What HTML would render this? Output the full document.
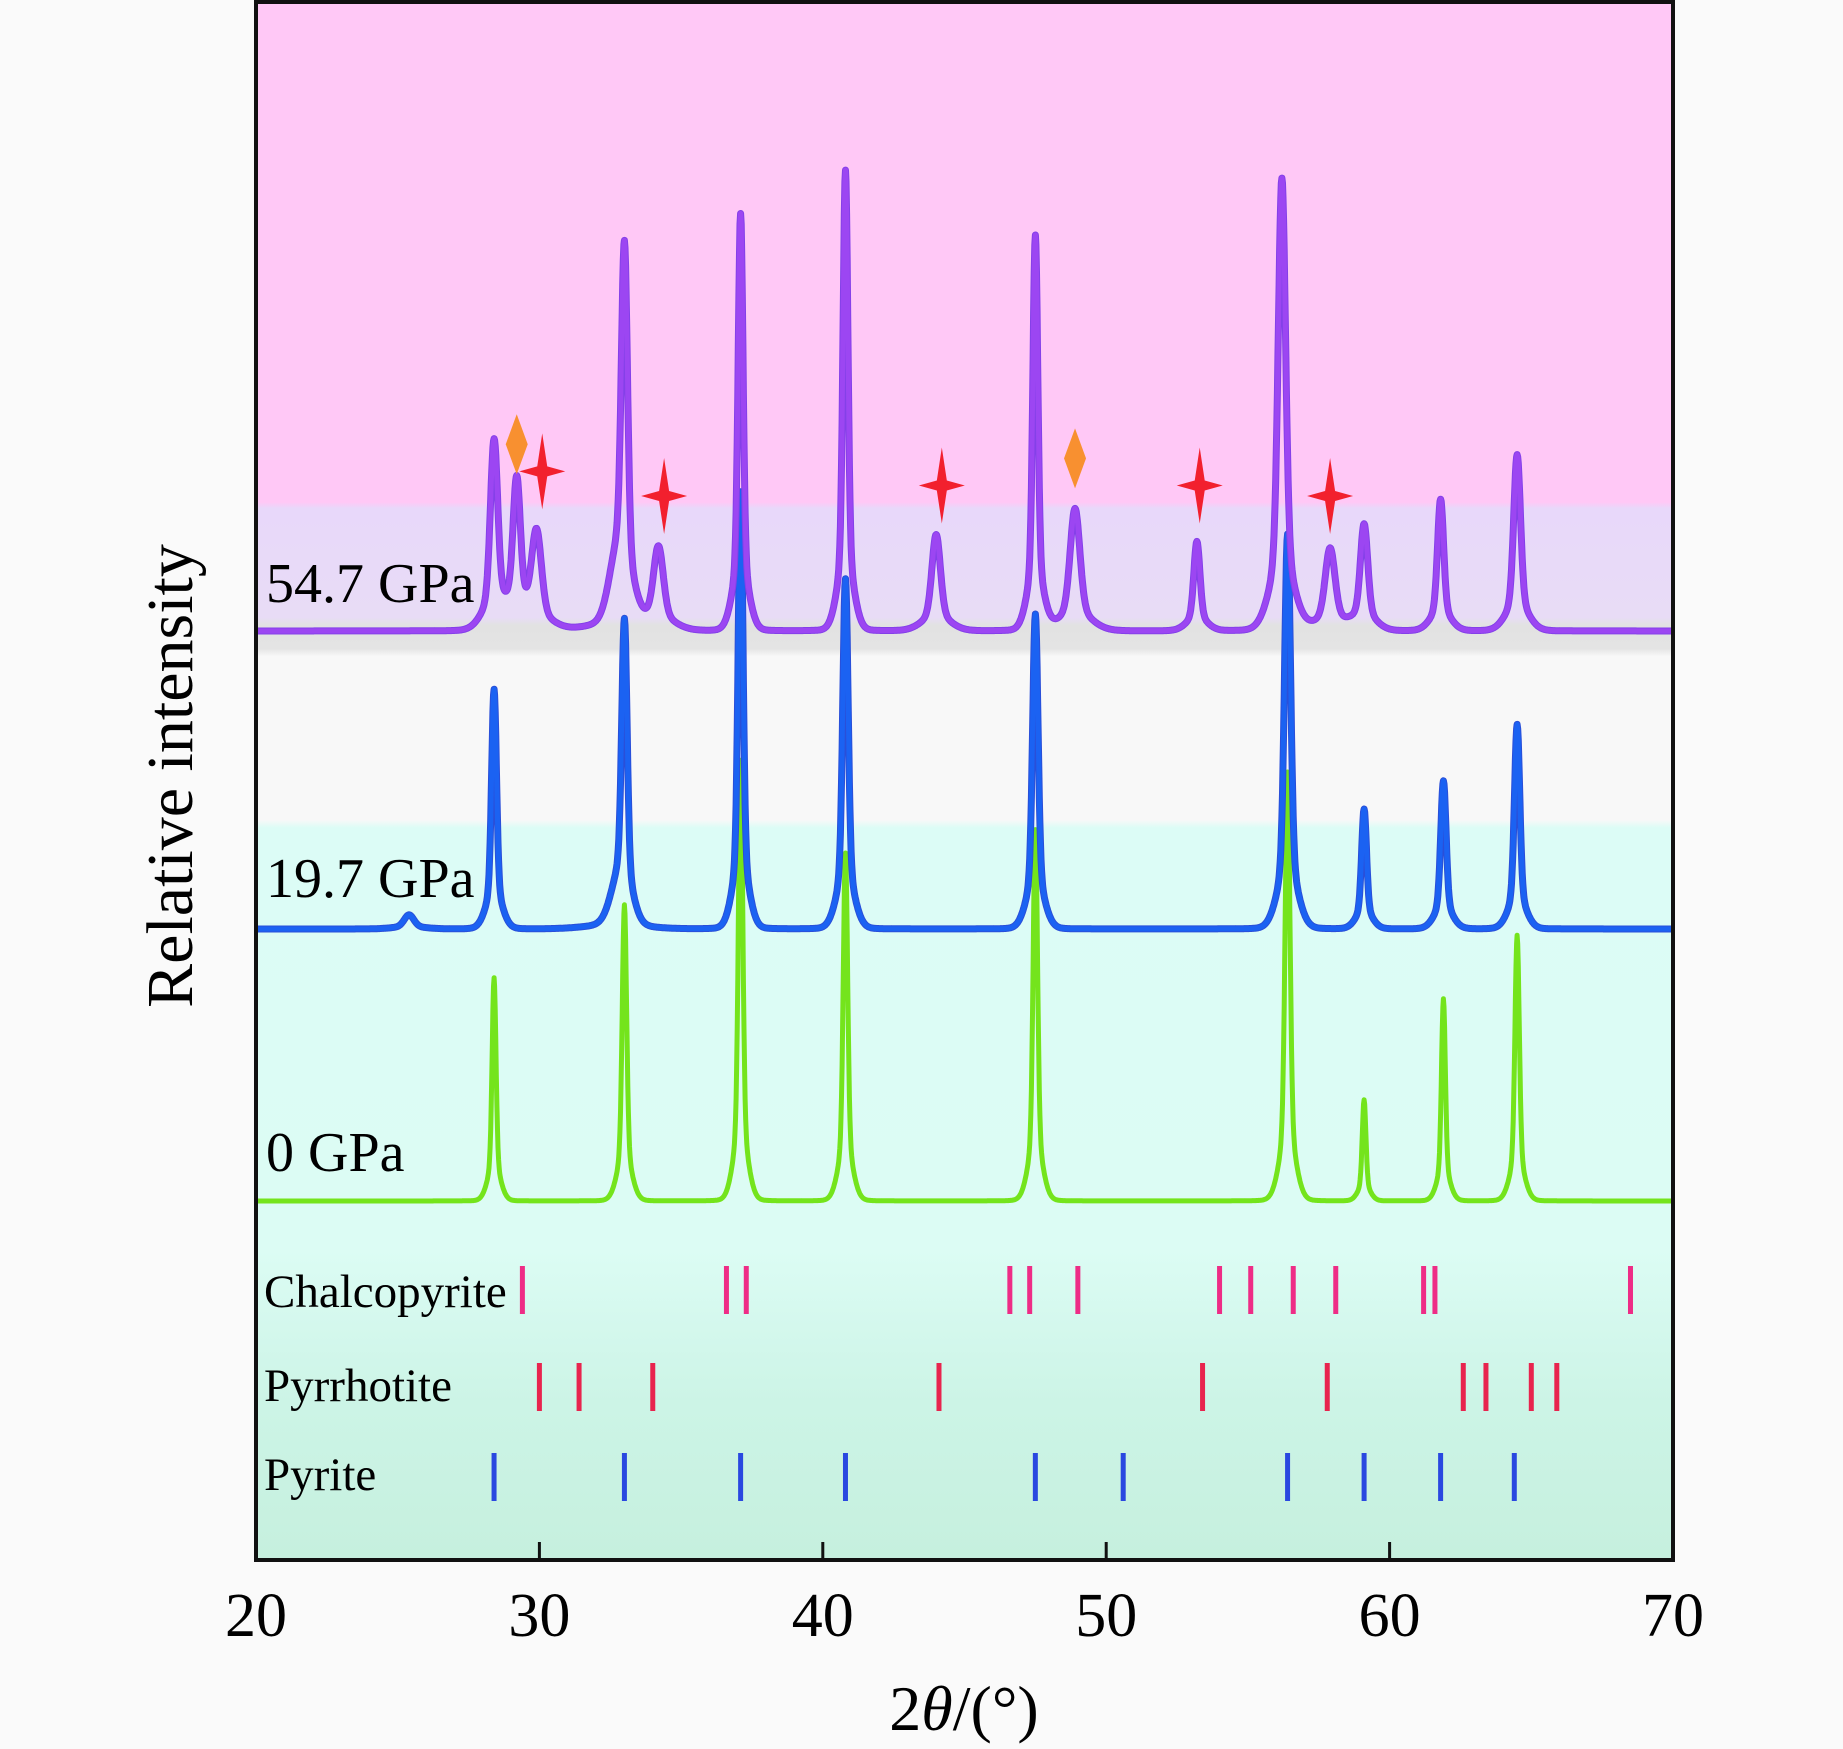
<!DOCTYPE html>
<html><head><meta charset="utf-8"><style>
html,body{margin:0;padding:0;background:#fafafa;}
svg{display:block;font-family:"Liberation Serif",serif;}
</style></head><body>
<svg id="chart" width="1843" height="1749" viewBox="0 0 1843 1749">
<defs>
<linearGradient id="bg" x1="0" y1="0" x2="0" y2="1">
<stop offset="0" stop-color="#ffc8f6"/>
<stop offset="0.321" stop-color="#ffc8f6"/>
<stop offset="0.325" stop-color="#e8d8fa"/>
<stop offset="0.395" stop-color="#e8dcf6"/>
<stop offset="0.40" stop-color="#e2e2e2"/>
<stop offset="0.415" stop-color="#e4e4e4"/>
<stop offset="0.42" stop-color="#f8f8f8"/>
<stop offset="0.525" stop-color="#f8f8f8"/>
<stop offset="0.53" stop-color="#dcfcf6"/>
<stop offset="0.80" stop-color="#dcfcf4"/>
<stop offset="0.90" stop-color="#ccf4e6"/>
<stop offset="1" stop-color="#c6f0de"/>
</linearGradient>
</defs>
<rect x="256" y="2" width="1417" height="1558" fill="url(#bg)"/>
<g id="marks"></g>
<rect x="256" y="2" width="1417" height="1558" fill="none" stroke="#111" stroke-width="4"/>
<g id="axis"></g>
<text x="964" y="1730" font-size="64" text-anchor="middle">2<tspan font-style="italic">θ</tspan>/(°)</text>
<text transform="translate(192,776) rotate(-90)" font-size="66" text-anchor="middle">Relative intensity</text>
<text x="266" y="602" font-size="56">54.7 GPa</text>
<text x="266" y="897" font-size="56">19.7 GPa</text>
<text x="266" y="1171" font-size="56">0 GPa</text>
<text x="264" y="1307" font-size="47">Chalcopyrite</text>
<text x="264" y="1401" font-size="47">Pyrrhotite</text>
<text x="264" y="1490" font-size="47">Pyrite</text>
</svg>
<script>
// peak positions (deg), heights (relative units), widths (deg)
const purplePos=[28.4,29.2,29.9,32.7,33.0,34.2,37.1,40.8,44.0,47.5,48.9,53.2,56.2,57.9,59.1,61.8,64.5];
const purpleAmp=[160,122,82,40,305,70,355,392,82,336,104,76,385,70,90,112,150];
const purpleWid=[0.3,0.3,0.4,0.7,0.25,0.4,0.2,0.2,0.35,0.2,0.4,0.25,0.3,0.4,0.3,0.25,0.28];
const bluePos=[25.4,28.4,32.7,33.0,37.1,40.8,47.5,56.4,59.1,61.9,64.5];
const blueAmp=[12,204,22,250,372,298,268,336,102,126,174];
const blueWid=[0.4,0.2,0.7,0.22,0.2,0.22,0.22,0.25,0.2,0.22,0.22];
const greenPos=[28.4,33.0,37.1,40.8,47.5,56.4,59.1,61.9,64.5];
const greenAmp=[190,252,375,296,316,365,86,172,226];
const greenWid=[0.16,0.18,0.18,0.18,0.18,0.2,0.15,0.16,0.18];
const chalcoPos=[29.4,36.6,37.3,46.6,47.3,49.0,54.0,55.1,56.6,58.1,61.2,61.6,68.5];
const pyrrhPos=[30.0,31.4,34.0,44.1,53.4,57.8,62.6,63.4,65.0,65.9];
const pyritePos=[28.4,33.0,37.1,40.8,47.5,50.6,56.4,59.1,61.8,64.4];
const diamondPos=[29.2,48.9];
const diamondY=[378,390];
const starPos=[30.1,34.4,44.2,53.3,57.9];
const starY=[401,422,413,413,422];
const xTicks=[20,30,40,50,60,70];

const NS="http://www.w3.org/2000/svg";
const X0=256,X1=1673,D0=20,D1=70;
const S=1.1754;
function xs(d){return X0+(d-D0)/(D1-D0)*(X1-X0);}
function ys(base,v){return base-v*S;}
const marks=document.getElementById('marks');
const axis=document.getElementById('axis');
function mk(tag,attrs,parent){const e=document.createElementNS(NS,tag);for(const k in attrs)e.setAttribute(k,attrs[k]);parent.appendChild(e);return e;}

function spectrum(pos,amp,wid,base,color,name,outline){
  let d='';
  for(let x=20;x<=70.001;x+=0.02){
    let v=0;
    for(let i=0;i<pos.length;i++){
      const g=(x-pos[i])/(wid[i]/2);
      const gb=(x-pos[i])/(wid[i]*1.6);
      v+=amp[i]*(0.12/(1+g*g)+0.73*Math.exp(-0.693*g*g)+0.15*Math.exp(-0.693*gb*gb));
    }
    d+=(d?'L':'M')+xs(x).toFixed(1)+','+ys(base,v).toFixed(1);
  }
  if(outline){
    const o=mk('path',{d:d,fill:'none',stroke:outline,'stroke-width':7,'stroke-linejoin':'round'},marks);
    
    
  }
  const p=mk('path',{d:d,fill:'none',stroke:color,'stroke-width':5,'stroke-linejoin':'round'},marks);
  
  
}
spectrum(greenPos,greenAmp,greenWid,1201,'#74e41c','spectrum-0-gpa');
spectrum(bluePos,blueAmp,blueWid,929,'#1b62f2','spectrum-19-7-gpa','#2a4fd8');
spectrum(purplePos,purpleAmp,purpleWid,631,'#9c46f2','spectrum-54-7-gpa','#8440e8');

function refTicks(pos,y,color,name){
  pos.forEach(p=>{
    const l=mk('line',{x1:xs(p),x2:xs(p),y1:y-24,y2:y+24,stroke:color,'stroke-width':5},marks);
    
    
  });
}
refTicks(chalcoPos,1290,'#ee2c86','chalcopyrite-ref-tick');
refTicks(pyrrhPos,1387,'#e8244e','pyrrhotite-ref-tick');
refTicks(pyritePos,1477,'#2a48e0','pyrite-ref-tick');

diamondPos.forEach((p,i)=>{
  const cx=xs(p),cy=diamondY[i]*S;
  const d=mk('path',{d:`M${cx},${cy-30}L${cx+11},${cy}L${cx},${cy+30}L${cx-11},${cy}Z`,fill:'#f89030'},marks);
  
  
});
starPos.forEach((p,i)=>{
  const cx=xs(p),cy=starY[i]*S,r=38,h=23,q=5;
  const d=mk('path',{d:`M${cx},${cy-r}L${cx+q},${cy-q}L${cx+h},${cy}L${cx+q},${cy+q}L${cx},${cy+r}L${cx-q},${cy+q}L${cx-h},${cy}L${cx-q},${cy-q}Z`,fill:'#f2202e'},marks);
  
  
});

xTicks.forEach(t=>{
  const x=xs(t);
  if(t>D0&&t<D1){
    const l=mk('line',{x1:x,x2:x,y1:1560,y2:1542,stroke:'#111','stroke-width':3},axis);
    
    
  }
  const tx=mk('text',{x:x,y:1636,'font-size':62,'text-anchor':'middle'},axis);
  tx.textContent=t;
  
  
});
</script>
</body></html>
